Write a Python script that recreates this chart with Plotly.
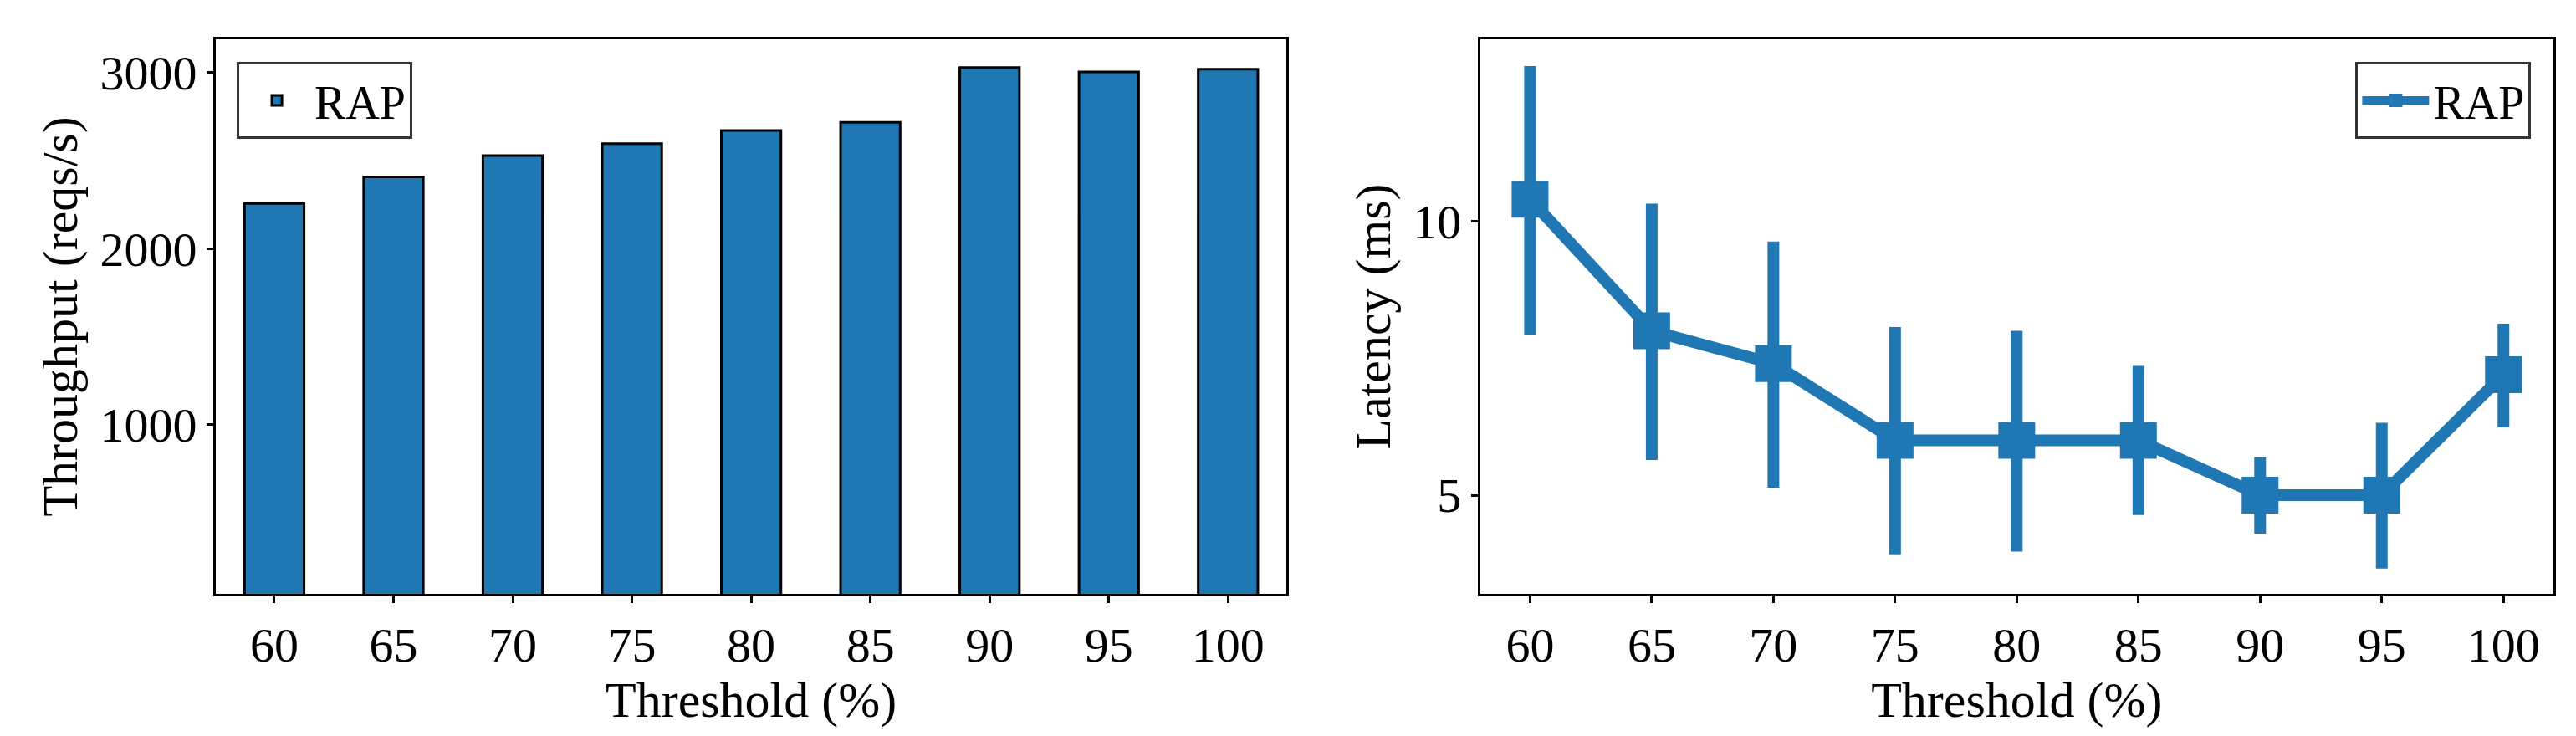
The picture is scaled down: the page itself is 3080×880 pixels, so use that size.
import plotly.graph_objects as go

thresholds = [60, 65, 70, 75, 80, 85, 90, 95, 100]
throughput = [2258, 2408, 2530, 2597, 2672, 2718, 3030, 3005, 3020]
latency = [10.4, 8.0, 7.4, 6.0, 6.0, 6.0, 5.0, 5.0, 7.2]
lat_hi = [12.83, 10.32, 9.63, 8.07, 8.0, 7.36, 5.69, 6.32, 8.13]
lat_lo = [7.93, 5.64, 5.14, 3.92, 3.97, 4.64, 4.30, 3.66, 6.24]

blue = "#1f77b4"
font = "Liberation Serif"
fig = go.Figure()
fig.add_trace(go.Bar(x=[str(t) for t in thresholds], y=throughput, name="RAP",
                     marker=dict(color=blue, line=dict(color="black", width=3)),
                     width=0.5, xaxis="x", yaxis="y", legend="legend"))
fig.add_trace(go.Scatter(x=thresholds, y=latency, name="RAP", mode="lines+markers",
                         line=dict(color=blue, width=14),
                         marker=dict(symbol="square", size=44, color=blue),
                         error_y=dict(type="data", symmetric=False,
                                      array=[h - v for h, v in zip(lat_hi, latency)],
                                      arrayminus=[v - l for l, v in zip(lat_lo, latency)],
                                      color=blue, thickness=14, width=0),
                         xaxis="x2", yaxis="y2", legend="legend2"))

ax = dict(showline=True, linecolor="black", linewidth=3, mirror=True, ticks="outside",
          ticklen=8, tickwidth=3, tickcolor="black", showgrid=False, zeroline=False,
          tickfont=dict(family=font, size=58, color="black"))
tf = dict(family=font, size=60, color="black")
fig.update_layout(
    width=3080, height=880, margin=dict(l=0, r=0, t=0, b=0),
    plot_bgcolor="white", paper_bgcolor="white", showlegend=True,
    xaxis=dict(ax, domain=[0.0812, 0.4968], range=[-0.49, 8.49],
               title=dict(text="Threshold (%)", font=tf, standoff=0)),
    yaxis=dict(ax, domain=[0.2023, 0.9557], range=[40, 3190], tickvals=[1000, 2000, 3000],
               title=dict(text="Throughput (reqs/s)", font=tf, standoff=8)),
    xaxis2=dict(ax, domain=[0.572, 0.9886], range=[57.95, 102.05], tickvals=thresholds,
                anchor="y2", title=dict(text="Threshold (%)", font=tf, standoff=0)),
    yaxis2=dict(ax, domain=[0.2023, 0.9557], range=[3.2, 13.32], tickvals=[5, 10],
                anchor="x2", title=dict(text="Latency (ms)", font=tf, standoff=8)),
    legend=dict(x=0.0893, y=0.925, xanchor="left", yanchor="top", bordercolor="#333",
                borderwidth=3, font=dict(family=font, size=56, color="black"),
                itemwidth=80),
    legend2=dict(x=0.98, y=0.925, xanchor="right", yanchor="top", bordercolor="#333",
                 borderwidth=3, font=dict(family=font, size=56, color="black"),
                 itemwidth=80),
)
fig.write_html("out.html")
